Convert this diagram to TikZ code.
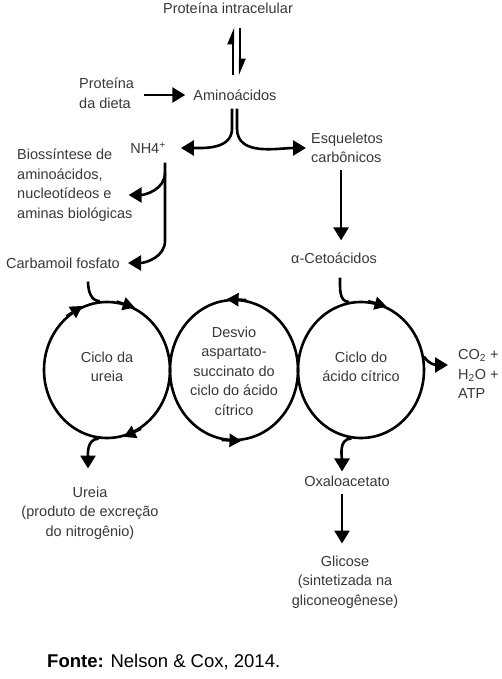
\documentclass[tikz,border=0pt]{standalone}
\usepackage{fontspec}
\setmainfont{Liberation Sans}
\usetikzlibrary{arrows.meta,shapes.geometric}

\begin{document}
\begin{tikzpicture} [
    x=1pt, y=-1pt,
    block/.style    = { rectangle, draw=none, inner sep=0pt, text=black!78,
                        font=\fontsize{14.5}{19.5}\selectfont },
    cblock/.style   = { block, align=center },
    lblock/.style   = { block, align=left, anchor=west },
    line/.style     = { draw, line width=2.6pt,
                        -{Triangle[length=13pt,width=15pt]} },
    merge/.style    = { draw, line width=2.6pt },
    harp/.style     = { draw, line width=2.2pt,
                        -{Triangle[harpoon,length=14pt,width=11pt]} },
    cyc/.style      = { ellipse, draw, line width=2.6pt, inner sep=0pt,
                        minimum width=126pt, minimum height=136pt },
    tip/.style      = { draw, line width=2.6pt,
                        -{Triangle[length=12pt,width=13pt]} },
  ]
  \useasboundingbox (0,0) rectangle (502,679);

  % Define nodes
  \node[cblock] (pint)  at (228,8)   {Proteína intracelular};
  \node[cblock] (amino) at (235,95)  {Aminoácidos};
  \node[lblock] (dieta) at (79,93)   {Proteína\\da dieta};
  \node[cblock] (nh)    at (148,148) {NH4\textsuperscript{+}};
  \node[lblock] (esq)   at (311,148) {Esqueletos\\carbônicos};
  \node[lblock] (bios)  at (17,185)  {Biossíntese de\\aminoácidos,\\nucleotídeos e\\aminas biológicas};
  \node[cblock] (carb)  at (63,263)  {Carbamoil fosfato};
  \node[cblock] (ceto)  at (334,258) {α-Cetoácidos};

  \node[cyc] (ureia)  at (107,370) {};
  \node[cyc, minimum width=128pt, minimum height=140pt] (desvio) at (234,370) {};
  \node[cyc] (citric) at (361,370) {};
  \node[cblock] (tureia)  at (107,367) {Ciclo da\\ureia};
  \node[cblock] (tdesvio) at (234,371) {Desvio\\aspartato-\\succinato do\\ciclo do ácido\\cítrico};
  \node[cblock] (tcitric) at (361,367) {Ciclo do\\ácido cítrico};
  \node[lblock] (prod)  at (458,374) {CO\textsubscript{2} +\\H\textsubscript{2}O +\\ATP};

  \node[cblock] (excr)  at (90,513)  {Ureia\\(produto de excreção\\do nitrogênio)};
  \node[cblock] (oxa)   at (347,481) {Oxaloacetato};
  \node[cblock] (glic)  at (345,582) {Glicose\\(sintetizada na\\gliconeogênese)};

  \node[anchor=west, inner sep=0pt, font=\fontsize{18.5}{22}\selectfont] (fonte) at (47,662)
    {\textbf{Fonte:} Nelson \& Cox, 2014.};

  % direction marks on the cycles
		\path [tip] (ureia.82) -- (ureia.66);
		\path [tip] (ureia.127) -- (ureia.111);
		\path [tip] (ureia.300) -- (ureia.284);
		\path [tip] (desvio.80) -- (desvio.96);
		\path [tip] (desvio.260) -- (desvio.276);
		\path [tip] (citric.84) -- (citric.68);

  % connect the nodes
		\path [harp] ([xshift=-2pt,yshift=14pt]amino.north) -- ([xshift=-2pt,yshift=-14pt]amino.north |- pint.south);
		\path [harp] ([xshift=5pt,yshift=-14pt]amino.north |- pint.south) -- ([xshift=5pt,yshift=14pt]amino.north);
		\path [line] ([xshift=10pt]dieta.east |- amino) -- ([xshift=-8pt]amino.west);
		\path [line] ([xshift=-3pt,yshift=-8pt]amino.south) -- ++(0,20) to[out=-90,in=0] ([xshift=15pt]nh.east);
		\path [line] ([xshift=2pt,yshift=-8pt]amino.south) -- ++(0,20) to[out=-90,in=180] ([xshift=-5pt]esq.west);
		\path [line] ([xshift=17pt,yshift=-9pt]nh.south) -- ++(0,78) to[out=-90,in=0] ([xshift=8pt]carb.east);
		\path [line] ([xshift=17pt,yshift=-19pt]nh.south) to[out=-90,in=0] ([xshift=-4pt,yshift=-10pt]bios.east);
		\path [line] ([xshift=-6pt,yshift=-7pt]esq.south) -- ([xshift=-6pt,yshift=12pt]esq.south |- ceto.north);
		\path [merge] ([xshift=25pt,yshift=-13pt]carb.south) to[out=-90,in=180] (ureia.96);
		\path [merge] ([xshift=6pt,yshift=-14pt]ceto.south) to[out=-90,in=180] (citric.100);
		\path [line] (ureia.263) to[out=180,in=90] ([xshift=-2pt,yshift=18pt]excr.north);
		\path [line] (citric.262) to[out=180,in=90] ([xshift=-5pt,yshift=4pt]oxa.north);
		\path [line] (citric.12) to[out=-60,in=180] ([xshift=-10pt,yshift=9pt]prod.west);
		\path [line, shorten <=7pt, shorten >=12pt] ([xshift=-5pt]oxa.south) -- ([xshift=-5pt]oxa.south |- glic.north);
\end{tikzpicture}
\end{document}
